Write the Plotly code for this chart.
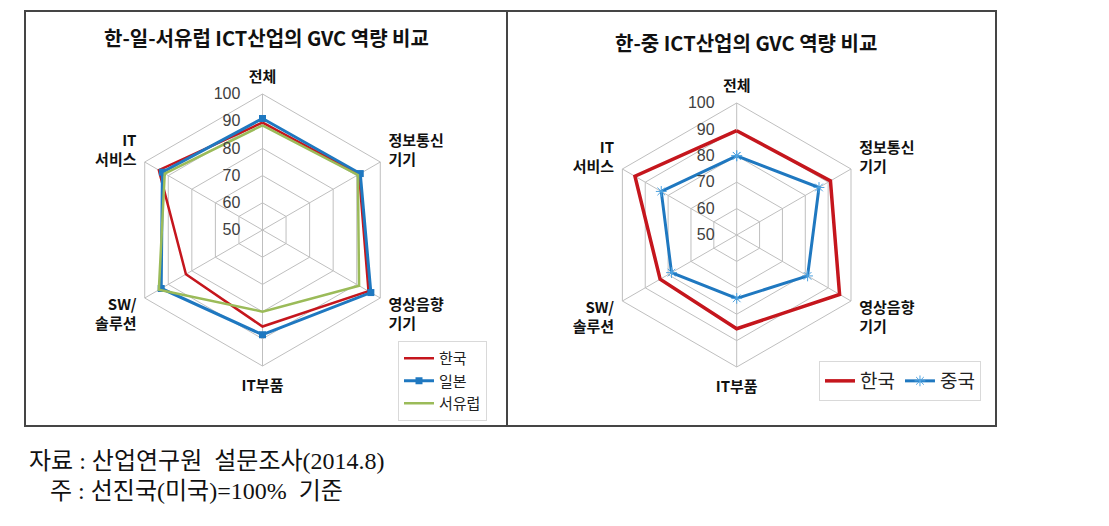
import plotly.graph_objects as go

W, H = 1109, 526

categories = ["전체", "정보통신기기", "영상음향기기", "IT부품", "SW/솔루션", "IT서비스"]
tick_labels = ["<b>전체</b>", "<b>정보통신</b><br><b>기기</b>", "<b>영상음향</b><br><b>기기</b>",
               "<b>IT부품</b>", "<b>SW/</b><br><b>솔루션</b>", "<b>IT</b><br><b>서비스</b>"]

# Left chart: Korea / Japan / Western Europe
korea_left = [89.5, 91.0, 95.0, 85.5, 82.5, 94.0]
japan = [91.0, 91.5, 96.0, 88.5, 93.0, 92.5]
west_europe = [88.5, 90.5, 91.0, 80.0, 94.0, 91.5]

# Right chart: Korea / China
korea_right = [89.5, 91.0, 95.0, 85.5, 83.5, 94.5]
china = [80.0, 86.0, 81.0, 74.0, 78.5, 83.0]

radial_ticks = [50, 60, 70, 80, 90, 100]

RED = "#C5161D"
BLUE = "#1F78C0"
GREEN = "#9BBB59"
GRID = "#BFBFBF"

def closed(v):
    return list(v) + [v[0]]

theta = closed(categories)

fig = go.Figure()

fig.add_trace(go.Scatterpolar(r=closed(korea_left), theta=theta, name="한국", mode="lines",
                              line=dict(color=RED, width=2.5), subplot="polar", legend="legend"))
fig.add_trace(go.Scatterpolar(r=closed(japan), theta=theta, name="일본", mode="lines+markers",
                              line=dict(color=BLUE, width=3), marker=dict(symbol="square", size=7, color=BLUE),
                              subplot="polar", legend="legend"))
fig.add_trace(go.Scatterpolar(r=closed(west_europe), theta=theta, name="서유럽", mode="lines",
                              line=dict(color=GREEN, width=2.5), subplot="polar", legend="legend"))

fig.add_trace(go.Scatterpolar(r=closed(korea_right), theta=theta, name="한국", mode="lines",
                              line=dict(color=RED, width=3.5), subplot="polar2", legend="legend2"))
fig.add_trace(go.Scatterpolar(r=closed(china), theta=theta, name="중국", mode="lines+markers",
                              line=dict(color=BLUE, width=3),
                              marker=dict(symbol="asterisk-open", size=9, color="#4FA3E0", line=dict(width=1, color="#4FA3E0")),
                              subplot="polar2", legend="legend2"))

def polar_layout(cx, cy, R):
    return dict(
        domain=dict(x=[(cx - R) / W, (cx + R) / W], y=[(H - cy - R) / H, (H - cy + R) / H]),
        gridshape="linear",
        bgcolor="white",
        radialaxis=dict(range=[50, 100], tickvals=radial_ticks, angle=90, side="counterclockwise",
                        tickangle=90,
                        showline=False, gridcolor=GRID, gridwidth=1,
                        ticks="outside", ticklen=16, tickcolor="rgba(0,0,0,0)",
                        tickfont=dict(family="Liberation Sans, Arial", size=16, color="#404040")),
        angularaxis=dict(type="category", categoryarray=categories, rotation=90, direction="clockwise",
                         tickmode="array", tickvals=categories, ticktext=tick_labels,
                         showline=True, linecolor=GRID, linewidth=1, gridcolor=GRID, gridwidth=1,
                         ticks="outside", ticklen=6, tickcolor="rgba(0,0,0,0)",
                         tickfont=dict(family="Noto Sans CJK KR", size=15, color="#111111")),
    )

fig.update_layout(
    width=W, height=H,
    margin=dict(l=0, r=0, t=0, b=0),
    paper_bgcolor="white",
    font=dict(family="Noto Sans CJK KR"),
    polar=polar_layout(262.5, 230, 136),
    polar2=polar_layout(736.7, 235, 132),
    legend=dict(x=398 / W, y=1 - 341 / H, xanchor="left", yanchor="top",
                bgcolor="white", bordercolor="#D9D9D9", borderwidth=1,
                font=dict(family="Noto Sans CJK KR", size=15, color="#222"),
                itemwidth=30, tracegroupgap=0),
    legend2=dict(x=819 / W, y=1 - 361 / H, xanchor="left", yanchor="top", orientation="h",
                 bgcolor="white", bordercolor="#D9D9D9", borderwidth=1,
                 font=dict(family="Noto Sans CJK KR", size=19, color="#222"),
                 itemwidth=30),
    shapes=[
        dict(type="rect", xref="paper", yref="paper", x0=25 / W, x1=507 / W, y0=1 - 426 / H, y1=1 - 11 / H,
             line=dict(color="#454545", width=2)),
        dict(type="rect", xref="paper", yref="paper", x0=507 / W, x1=996 / W, y0=1 - 426 / H, y1=1 - 11 / H,
             line=dict(color="#454545", width=2)),
    ],
    annotations=[
        dict(text="<b>한-일-서유럽 ICT산업의 GVC 역량 비교</b>", x=266 / W, y=1 - 38 / H, xref="paper", yref="paper",
             xanchor="center", yanchor="middle",
             showarrow=False, font=dict(family="Noto Sans CJK KR", size=20, color="#111")),
        dict(text="<b>한-중 ICT산업의 GVC 역량 비교</b>", x=746 / W, y=1 - 42 / H, xref="paper", yref="paper",
             xanchor="center", yanchor="middle",
             showarrow=False, font=dict(family="Noto Sans CJK KR", size=20, color="#111")),
        dict(text="자료 : 산업연구원  설문조사(2014.8)", x=27 / W, y=1 - 461 / H, xref="paper", yref="paper",
             xanchor="left", yanchor="middle", showarrow=False,
             font=dict(family="Liberation Serif, Noto Sans CJK KR", size=24, color="#111")),
        dict(text="주 : 선진국(미국)=100%  기준", x=48 / W, y=1 - 491 / H, xref="paper", yref="paper",
             xanchor="left", yanchor="middle", showarrow=False,
             font=dict(family="Liberation Serif, Noto Sans CJK KR", size=24, color="#111")),
    ],
)

fig.write_html("out.html")
